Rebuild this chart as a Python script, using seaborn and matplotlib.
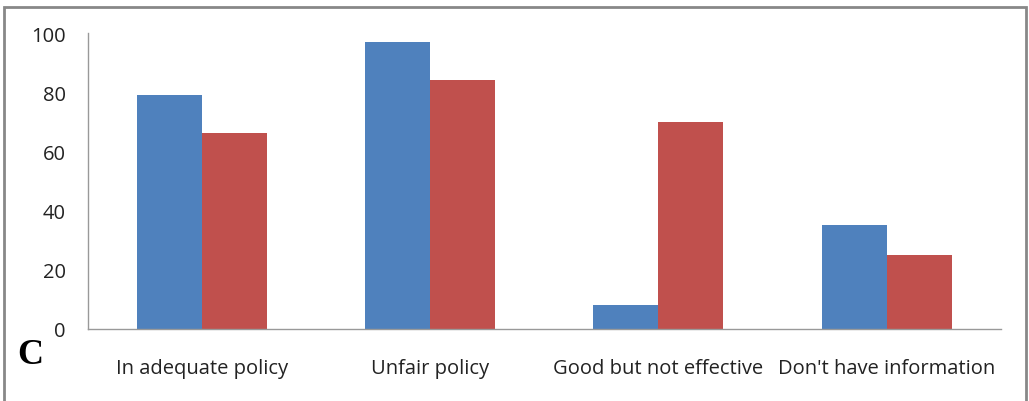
import matplotlib
matplotlib.use("Agg")
import matplotlib.pyplot as plt
import seaborn as sns
import pandas as pd
from matplotlib.patches import Rectangle

categories = ["In adequate policy", "Unfair policy", "Good but not effective", "Don't have information"]
series_a = [79, 97, 8, 35]
series_b = [66, 84, 70, 25]
series_names = ["Series 1", "Series 2"]
y_ticks = [0, 20, 40, 60, 80, 100]

df = pd.DataFrame({
    "category": categories * 2,
    "value": series_a + series_b,
    "series": [series_names[0]] * len(categories) + [series_names[1]] * len(categories),
})

sns.set_theme(style="white")
plt.rcParams["font.family"] = ["Open Sans", "DejaVu Sans"]

fig = plt.figure(figsize=(10.29, 4.02), dpi=100)
ax = fig.add_axes([88 / 1029, 1 - 329.5 / 402, (1000.7 - 88) / 1029, (329.5 - 34) / 402])

sns.barplot(data=df, x="category", y="value", hue="series", order=categories,
            hue_order=series_names, palette=["#4F81BD", "#C0504D"],
            width=0.57, saturation=1, linewidth=0, ax=ax, legend=False)

ax.set_ylim(0, 100)
ax.set_xlim(-0.5, len(categories) - 0.5)
ax.set_yticks(y_ticks)
ax.set_yticklabels([str(t) for t in y_ticks], fontsize=14.5, color="#222222")
ax.tick_params(axis="y", length=0, pad=16)
ax.tick_params(axis="x", length=0, pad=21, labelsize=14.5, labelcolor="#222222")
ax.set_xlabel("")
ax.set_ylabel("")
for s in ["top", "right"]:
    ax.spines[s].set_visible(False)
for s in ["left", "bottom"]:
    ax.spines[s].set_color("#999999")
    ax.spines[s].set_linewidth(1.0)

fig.text(30 / 1029, 1 - 356 / 402, "C", fontsize=26, fontweight="bold",
         family=["Liberation Serif", "DejaVu Serif"], ha="center", va="center", color="black")

fig.patches.append(Rectangle((4 / 1029, -0.05), (1025.5 - 4) / 1029, 1 - 8 / 402 + 0.05,
                             transform=fig.transFigure, fill=False, edgecolor="#888888",
                             linewidth=2, zorder=10))

fig.savefig("out.png", dpi=100)
